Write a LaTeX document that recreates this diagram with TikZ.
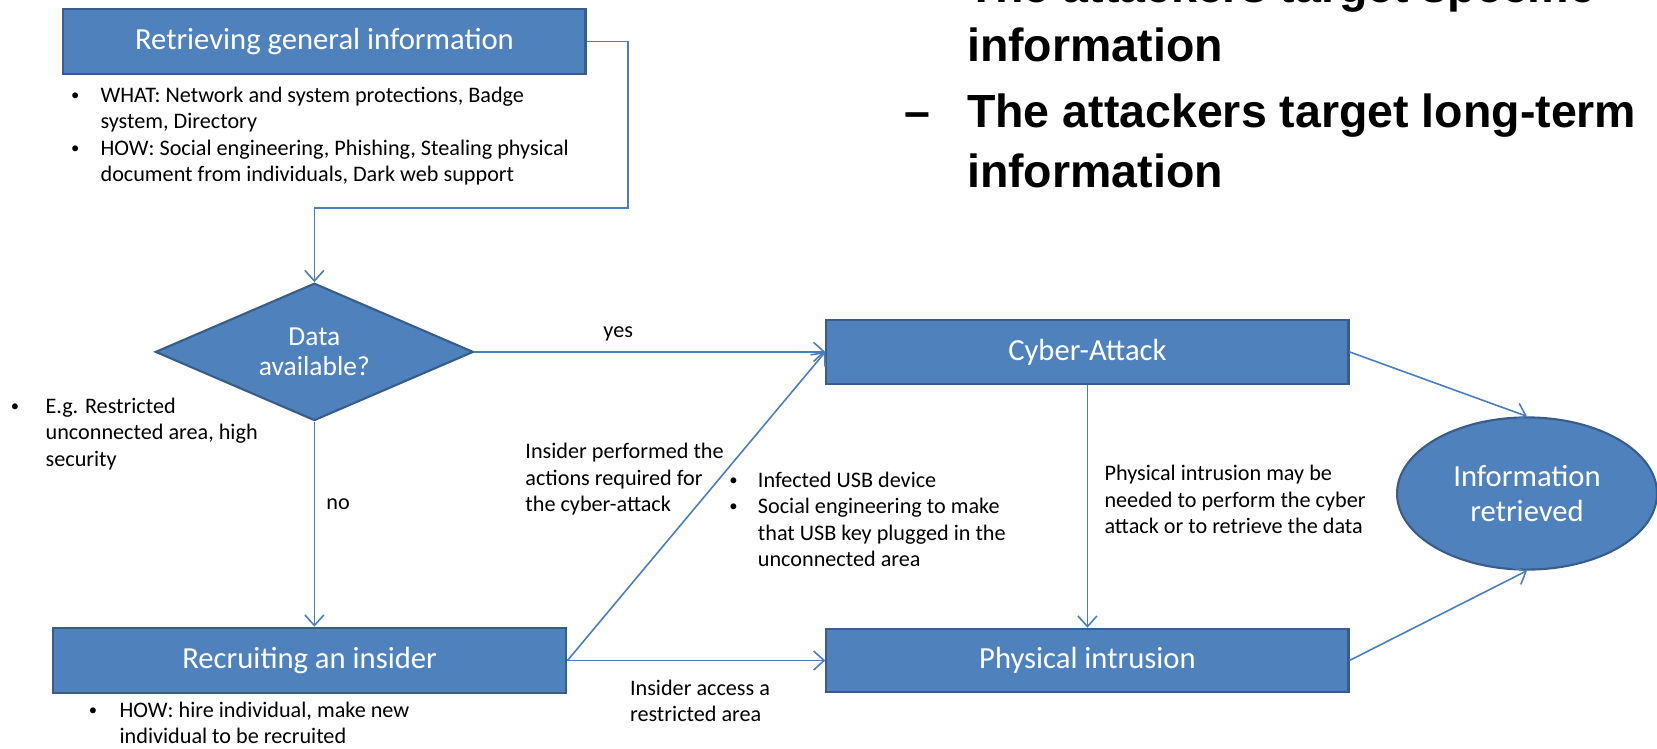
\documentclass[tikz,border=0pt]{standalone}
\usepackage{fontspec}
\usepackage{array}
\setmainfont{Carlito}
\newfontfamily\headfont{Liberation Sans}
\usetikzlibrary{arrows.meta,shapes.geometric}
\definecolor{boxfill}{HTML}{4F81BD}
\definecolor{boxline}{HTML}{385D8A}
\definecolor{wire}{HTML}{4A7EBB}
% plain multi-line text and bulleted text, one row per printed line
\newcommand\txtlines[1]{\begin{tabular}[t]{@{}l@{}}#1\end{tabular}}
\newcommand\bulletlines[2]{\begin{tabular}[t]{@{}w{l}{#1}@{}l@{}}#2\end{tabular}}
\newcommand\bul{\raisebox{1.6pt}{\scalebox{0.75}{\textbullet}}}

\begin{document}
\begin{tikzpicture}[x=1pt,y=-1pt,
  procbox/.style={rectangle, fill=boxfill, draw=boxline, line width=2pt,
    text=white, inner sep=0pt, font=\fontsize{29}{33}\selectfont},
  decision/.style={diamond, aspect=2.3, fill=boxfill, draw=boxline, line width=2pt,
    text=white, inner sep=0pt, align=center, font=\fontsize{26}{29}\selectfont,
    minimum width=301pt, minimum height=130pt},
  goal/.style={ellipse, fill=boxfill, draw=boxline, line width=2pt,
    text=white, inner sep=0pt, align=center, font=\fontsize{29}{33}\selectfont,
    minimum width=246pt, minimum height=144pt},
  note/.style={inner sep=0pt, anchor=base west, font=\fontsize{21}{25}\selectfont},
  lbl/.style={inner sep=0pt, font=\fontsize{21}{25}\selectfont},
  heading/.style={inner sep=0pt, anchor=base west, font=\headfont\bfseries\fontsize{44}{56}\selectfont},
  conn/.style={draw=wire, line width=1.5pt, -{Straight Barb[length=10pt,width=18pt]}}
]
\path[use as bounding box] (0,0) rectangle (1568,708);
\clip (0,0) rectangle (1568,708);

% bold bullet points, upper right
\node[heading] (headtext) at (856,2) {\begin{tabular}[t]{@{}w{l}{59pt}@{}l@{}}
  & The attackers target specific\\
  & information\\[7pt]
  \textendash & The attackers target long-term\\
  & information\end{tabular}};

% process steps
\node[procbox, minimum width=494pt, minimum height=61.5pt] (retr) at (307,39.25) {Retrieving general information};
\node[note] (retrnote) at (67,97) {\bulletlines{28pt}{%
  \bul & WHAT: Network and system protections, Badge\\
  & system, Directory\\
  \bul & HOW: Social engineering, Phishing, Stealing physical\\
  & document from individuals, Dark web support}};

\node[decision] (dec) at (297.5,333) {Data\\available?};
\node[note] (egnote) at (10,391) {\bulletlines{33pt}{%
  \bul & E.g. Restricted\\
  & unconnected area, high\\
  & security}};

\node[procbox, minimum width=494pt, minimum height=60pt] (cyber) at (1029,333) {Cyber-Attack};
\node[procbox, minimum width=486pt, minimum height=62pt] (recr) at (293,625) {Recruiting an insider};
\node[note] (recrnote) at (84,679) {\bulletlines{29pt}{%
  \bul & HOW: hire individual, make new\\
  & individual to be recruited}};
\node[procbox, minimum width=494pt, minimum height=60pt] (phys) at (1029,625) {Physical intrusion};
\node[goal] (info) at (1445,467) {Information\\retrieved};

% connector labels
\node[lbl] (yeslbl) at (585,316) {yes};
\node[lbl] (nolbl) at (320,477) {no};
\node[note] (insidercyb) at (497,434) {\txtlines{Insider performed the\\actions required for\\the cyber-attack}};
\node[note] (usbnote) at (690,461) {\bulletlines{27pt}{%
  \bul & Infected USB device\\
  \bul & Social engineering to make\\
  & that USB key plugged in the\\
  & unconnected area}};
\node[note] (physnote) at (1045,455) {\txtlines{Physical intrusion may be\\needed to perform the cyber\\attack or to retrieve the data}};
\node[note] (insiderarea) at (596,658) {\txtlines{Insider access a\\restricted area}};

% connectors
\coordinate (bend) at (594,197);
\draw[conn] (retr.east) -| (bend) -| (dec.north);
\draw[conn] (dec.east) -- (cyber.west);
\draw[conn] (dec.south) -- (dec.south |- recr.north);
\draw[conn] (recr.east) -- (cyber.west);
\draw[conn] (recr.east) -- (phys.west);
\draw[conn] (cyber.south) -- (phys.north);
\draw[conn] (cyber.east) -- (info.north);
\draw[conn] (phys.east) -- (info.south);
\end{tikzpicture}
\end{document}
